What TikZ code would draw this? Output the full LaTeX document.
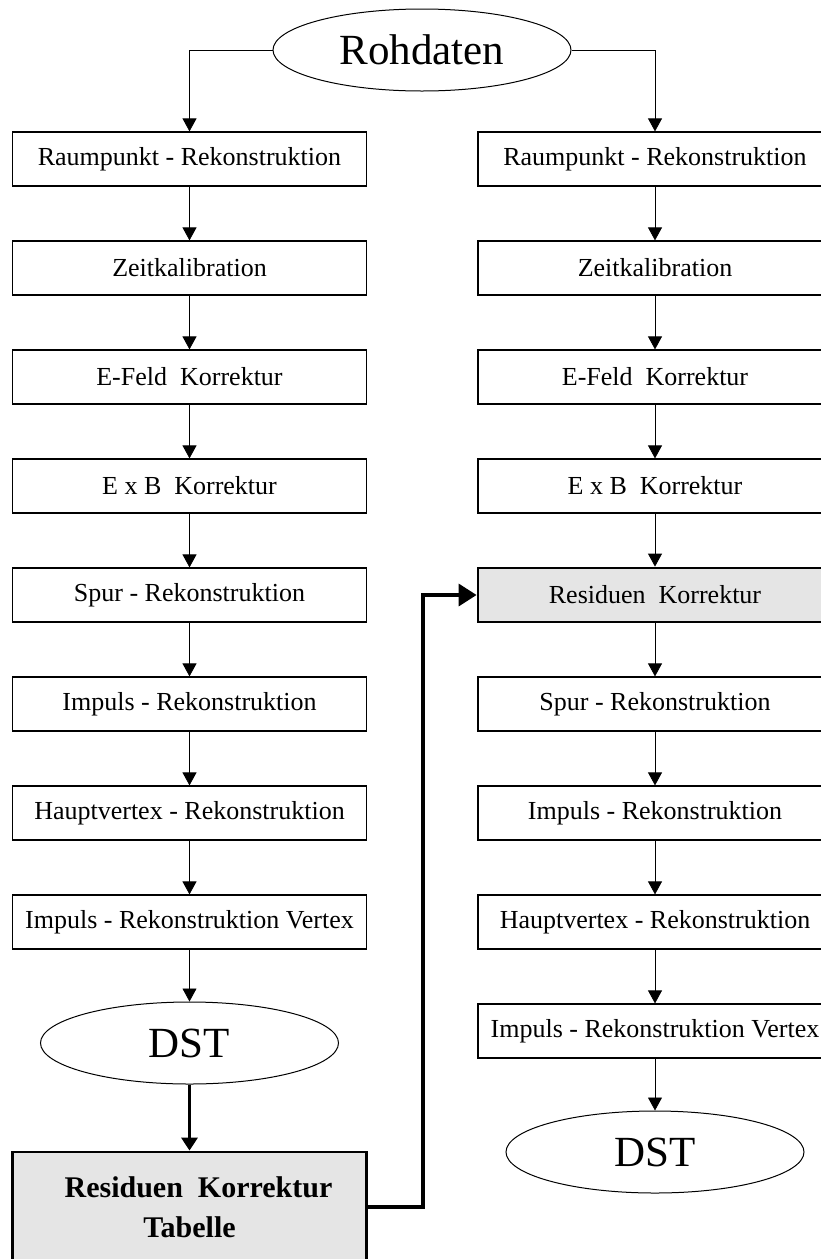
\documentclass[tikz,border=0pt]{standalone}
\usepackage{fontspec}
\setmainfont{Liberation Serif}
\usetikzlibrary{arrows.meta}
\usetikzlibrary{shapes.geometric}

\tikzset{
  stage/.style={draw, line width=1.2pt, minimum width=354pt, minimum height=54pt,
    inner sep=0pt, font=\fontsize{26}{30}\selectfont},
  corr/.style={stage, fill=black!10, line width=2.8pt},
  blob/.style={draw, ellipse, line width=1pt, minimum width=298pt, minimum height=82pt,
    inner sep=0pt, font=\fontsize{43}{48}\selectfont},
  flow/.style={line width=0.8pt, -{Triangle[length=13pt,width=14pt]}},
  fatflow/.style={line width=3.5pt, -{Triangle[length=13pt,width=16pt]}},
}

\begin{document}
\begin{tikzpicture}[x=1pt,y=-1pt]
\useasboundingbox (0,0) rectangle (820,1259);

\node[blob] (raw) at (422,50) {Rohdaten};

% linke Kette
\node[stage] (l1) at (189.5,159) {Raumpunkt - Rekonstruktion};
\node[stage] (l2) at (189.5,268) {Zeitkalibration};
\node[stage] (l3) at (189.5,377) {E-Feld~~Korrektur};
\node[stage] (l4) at (189.5,486) {E x B~~Korrektur};
\node[stage] (l5) at (189.5,595) {Spur - Rekonstruktion};
\node[stage] (l6) at (189.5,704) {Impuls - Rekonstruktion};
\node[stage] (l7) at (189.5,813) {Hauptvertex - Rekonstruktion};
\node[stage] (l8) at (189.5,922) {Impuls - Rekonstruktion Vertex};
\node[blob] (ldst) at (189.5,1043) {DST};
\node[corr, minimum height=110pt, align=center, font=\fontsize{30}{40}\selectfont\bfseries]
  (tab) at (189.5,1207) {\hspace*{18pt}Residuen~~Korrektur\\Tabelle};

% rechte Kette
\node[stage] (r1) at (655,159) {Raumpunkt - Rekonstruktion};
\node[stage] (r2) at (655,268) {Zeitkalibration};
\node[stage] (r3) at (655,377) {E-Feld~~Korrektur};
\node[stage] (r4) at (655,486) {E x B~~Korrektur};
\node[corr] (rres) at (655,595) {Residuen~~Korrektur};
\node[stage] (r5) at (655,704) {Spur - Rekonstruktion};
\node[stage] (r6) at (655,813) {Impuls - Rekonstruktion};
\node[stage] (r7) at (655,922) {Hauptvertex - Rekonstruktion};
\node[stage] (r8) at (655,1031) {Impuls - Rekonstruktion Vertex};
\node[blob] (rdst) at (655,1152) {DST};

\draw[flow] (raw.west) -| (l1.north);
\draw[flow] (raw.east) -| (r1.north);

\draw[flow] (l1) -- (l2);
\draw[flow] (l2) -- (l3);
\draw[flow] (l3) -- (l4);
\draw[flow] (l4) -- (l5);
\draw[flow] (l5) -- (l6);
\draw[flow] (l6) -- (l7);
\draw[flow] (l7) -- (l8);
\draw[flow] (l8) -- (ldst);
\draw[fatflow] (ldst) -- (tab);

\draw[flow] (r1) -- (r2);
\draw[flow] (r2) -- (r3);
\draw[flow] (r3) -- (r4);
\draw[flow] (r4) -- (rres);
\draw[flow] (rres) -- (r5);
\draw[flow] (r5) -- (r6);
\draw[flow] (r6) -- (r7);
\draw[flow] (r7) -- (r8);
\draw[flow] (r8) -- (rdst);

% Rueckfuehrung der Tabelle
\draw[line width=3.5pt, -{Triangle[length=18pt,width=22pt]}]
  (tab.east) -- ++(55,0) |- (rres.west);
\end{tikzpicture}
\end{document}
